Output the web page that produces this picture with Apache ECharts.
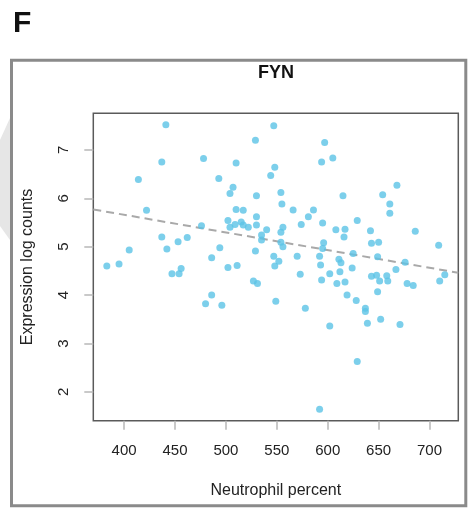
<!DOCTYPE html>
<html>
<head>
<meta charset="utf-8">
<script src="https://cdn.jsdelivr.net/npm/echarts@6/dist/echarts.min.js"></script>
<style>
  html, body { margin: 0; padding: 0; background: #ffffff; }
  #chart { width: 469px; height: 508px; }
</style>
</head>
<body>
<div id="chart"></div>
<script>
// FYN expression vs neutrophil percent, one sample per point
const neutrophilPercent = [
  441, 437, 478, 414, 493, 422, 476, 437, 462, 453, 442, 405, 494, 486, 395, 383,
  456, 447, 454, 480, 486, 496, 502, 511, 527, 531, 549, 548, 552, 547, 547, 529,
  597, 594, 605, 510, 548, 544, 507, 504, 530, 554, 555, 615, 510, 517, 566, 586,
  530, 581, 502, 509, 515, 504, 517, 522, 530, 540, 535, 535, 556, 554, 554, 556,
  574, 595, 608, 616, 529, 570, 592, 596, 595, 593, 611, 613, 573, 578, 594, 602,
  609, 612, 602, 592, 668, 654, 661, 661, 629, 617, 642, 643, 650, 686, 709, 625,
  649, 676, 624, 667, 617, 619, 628, 637, 637, 639, 652, 671, 629, 643, 648, 651,
  658, 659, 649, 678, 684, 710, 715
];
const fynExpression = [
  7.52, 6.75, 6.82, 6.39, 6.41, 5.75, 5.43, 5.20, 5.19, 5.10, 4.95, 4.93, 4.98, 4.77, 4.64, 4.60,
  4.55, 4.44, 4.44, 3.82, 4.00, 3.79, 4.57, 4.61, 4.29, 4.24, 3.87, 4.60, 4.70, 4.80, 7.50, 7.20,
  7.15, 6.75, 6.83, 6.73, 6.64, 6.47, 6.23, 6.10, 6.05, 6.12, 5.88, 6.05, 5.77, 5.75, 5.76, 5.76,
  5.62, 5.62, 5.54, 5.46, 5.51, 5.40, 5.45, 5.40, 5.45, 5.35, 5.24, 5.14, 5.40, 5.30, 5.09, 5.00,
  5.46, 5.49, 5.35, 5.20, 4.91, 4.80, 4.80, 5.08, 4.96, 4.62, 4.74, 4.67, 4.43, 3.73, 4.31, 4.44,
  4.24, 4.48, 3.36, 1.64, 6.27, 6.07, 5.88, 5.69, 5.54, 5.36, 5.33, 5.07, 5.09, 5.32, 5.03, 4.86,
  4.79, 4.68, 4.56, 4.53, 4.27, 4.00, 3.89, 3.73, 3.66, 3.42, 3.50, 3.39, 2.63, 4.39, 4.41, 4.29,
  4.40, 4.29, 4.07, 4.24, 4.20, 4.29, 4.42
];
const xTickValues = [400, 450, 500, 550, 600, 650, 700];
const yTickValues = [2, 3, 4, 5, 6, 7];

const points = neutrophilPercent.map((x, i) => [x, fynExpression[i]]);

// axis ranges padded by 4% on each side
function paddedRange(values) {
  const lo = Math.min(...values), hi = Math.max(...values);
  const pad = (hi - lo) * 0.04;
  return [lo - pad, hi + pad];
}
const [xMin, xMax] = paddedRange(neutrophilPercent);
const [yMin, yMax] = paddedRange(fynExpression);

// least-squares fit of expression on neutrophil percent
const n = points.length;
const meanX = neutrophilPercent.reduce((a, b) => a + b, 0) / n;
const meanY = fynExpression.reduce((a, b) => a + b, 0) / n;
let sxy = 0, sxx = 0;
for (let i = 0; i < n; i++) {
  sxy += (neutrophilPercent[i] - meanX) * (fynExpression[i] - meanY);
  sxx += (neutrophilPercent[i] - meanX) ** 2;
}
const slope = sxy / sxx;
const intercept = meanY - slope * meanX;
const fitLine = [[xMin, intercept + slope * xMin], [xMax, intercept + slope * xMax]];

const chart = echarts.init(document.getElementById('chart'), null, { renderer: 'canvas' });
const font = 'Liberation Sans, Arial, Helvetica, sans-serif';

chart.setOption({
  animation: false,
  backgroundColor: '#ffffff',
  textStyle: { fontFamily: font },
  grid: {
    left: 93.3, right: 10.7, top: 113.3, bottom: 87.3,
    show: true, borderColor: '#5a5a5a', borderWidth: 1.5, backgroundColor: 'transparent'
  },
  xAxis: {
    type: 'value', min: xMin, max: xMax,
    splitLine: { show: false },
    axisLine: { show: false },
    axisTick: { show: true, length: 9, customValues: xTickValues, lineStyle: { color: '#b8b8b8', width: 1.5 } },
    axisLabel: { customValues: xTickValues, margin: 23, fontSize: 15, color: '#222', fontFamily: font },
    name: 'Neutrophil percent', nameLocation: 'middle', nameGap: 62,
    nameTextStyle: { fontSize: 16, color: '#222', fontFamily: font }
  },
  yAxis: {
    type: 'value', min: yMin, max: yMax,
    splitLine: { show: false },
    axisLine: { show: false },
    axisTick: { show: true, length: 9, customValues: yTickValues, lineStyle: { color: '#b8b8b8', width: 1.5 } },
    axisLabel: { customValues: yTickValues, rotate: 90, margin: 22, fontSize: 15, color: '#222', fontFamily: font },
    name: 'Expression log counts', nameLocation: 'middle', nameGap: 58, nameRotate: 90,
    nameTextStyle: { fontSize: 16, color: '#222', fontFamily: font }
  },
  series: [
    {
      type: 'scatter',
      data: points,
      symbol: 'circle',
      symbolSize: 7,
      itemStyle: { color: '#5bc3e6' },
      z: 3
    },
    {
      type: 'line',
      data: fitLine,
      symbol: 'none',
      lineStyle: { color: '#a9a9a9', width: 2, type: [8, 5] },
      z: 2
    }
  ],
  graphic: [
    {
      type: 'polygon', z: 0,
      shape: { points: [[0, 140], [10, 118], [10, 240], [0, 226]] },
      style: { fill: '#e6e6e6' }
    },
    {
      type: 'rect', z: 10,
      shape: { x: 11.5, y: 60.3, width: 454.3, height: 445.5 },
      style: { fill: 'none', stroke: '#8a8a8a', lineWidth: 3 }
    },
    {
      type: 'text', z: 10, left: 13, top: 9,
      style: { text: 'F', fontSize: 30, fontWeight: 'bold', fill: '#111', fontFamily: font }
    },
    {
      type: 'text', z: 10, x: 276, y: 64,
      style: { text: 'FYN', fontSize: 18, fontWeight: 'bold', fill: '#111', fontFamily: font, textAlign: 'center' }
    }
  ]
});
</script>
</body>
</html>
